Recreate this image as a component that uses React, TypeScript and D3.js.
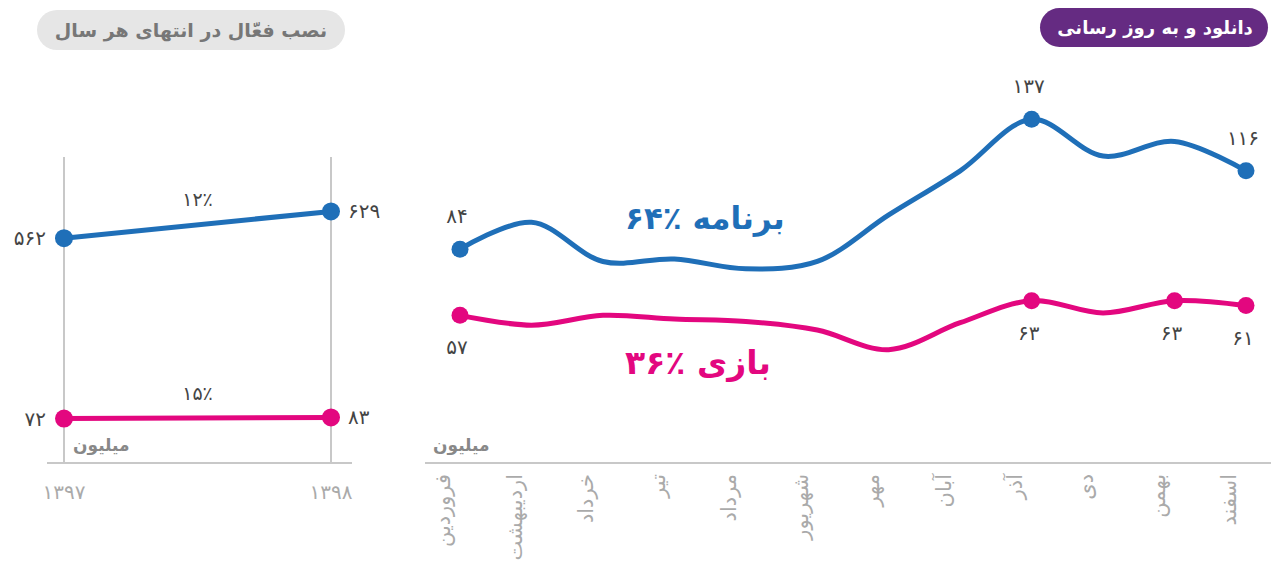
import { useEffect, useRef } from "react"
import * as d3 from "d3"

// monthly downloads & updates (million)
const months = ["فروردین", "اردیبهشت", "خرداد", "تیر", "مرداد", "شهریور", "مهر", "آبان", "آذر", "دی", "بهمن", "اسفند"]
const appValues = [84, 95, 79, 80, 76, 79, 98, 116, 137, 122, 128, 116]
const gameValues = [57, 53, 57, 55.5, 54.5, 51, 43, 54, 63, 58, 63, 61]
const appLabeled = [0, 8, 11]
const gameLabeled = [0, 8, 10, 11]

// active installs at year end (million)
const years = ["۱۳۹۷", "۱۳۹۸"]
const appInstalls = [562, 629]
const gameInstalls = [72, 83]
const appGrowth = "۱۲٪"
const gameGrowth = "۱۵٪"

const BLUE = "#1f6fb8"
const PINK = "#e3077f"
const GRID = "#c8c8c8"
const FONT = "DejaVu Sans, sans-serif"

const fa = (n: number) => d3.format("d")(n).replace(/\d/g, (c) => "۰۱۲۳۴۵۶۷۸۹"[+c])

export default function App() {
  const svgRef = useRef<SVGSVGElement>(null)

  useEffect(() => {
    if (!svgRef.current) return
    const svg = d3.select(svgRef.current)
    svg.selectAll("*").remove()
    svg.style("font-family", FONT)

    // ---------- headers ----------
    svg.append("rect").attr("x", 37).attr("y", 10).attr("width", 308).attr("height", 40).attr("rx", 20).attr("fill", "#e6e6e6")
    svg.append("text").attr("x", 191).attr("y", 30).attr("dy", "0.35em").attr("text-anchor", "middle")
      .attr("fill", "#777").style("font-size", "19px").style("font-weight", "bold").text("نصب فعّال در انتهای هر سال")

    svg.append("rect").attr("x", 1040).attr("y", 8).attr("width", 228).attr("height", 39).attr("rx", 19.5).attr("fill", "#652b82")
    svg.append("text").attr("x", 1155).attr("y", 27.5).attr("dy", "0.35em").attr("text-anchor", "middle")
      .attr("fill", "#fff").style("font-size", "18px").style("font-weight", "bold").text("دانلود و به روز رسانی")

    // ---------- left: yearly installs ----------
    const xl = d3.scalePoint<string>().domain(years).range([64, 331])
    const yApp = d3.scaleLinear().domain([0, 700]).range([463, 183])
    const yGame = d3.scaleLinear().domain([0, 1000]).range([425.75, 325.75])

    const left = svg.append("g")
    years.forEach((yr) => {
      left.append("line").attr("x1", xl(yr)!).attr("x2", xl(yr)!).attr("y1", 157).attr("y2", 463)
        .attr("stroke", GRID).attr("stroke-width", 2)
      left.append("text").attr("x", xl(yr)!).attr("y", 492).attr("dy", "0.35em").attr("text-anchor", "middle")
        .attr("fill", "#aaa").style("font-size", "20px").text(yr)
    })
    left.append("line").attr("x1", 47).attr("x2", 352).attr("y1", 463).attr("y2", 463).attr("stroke", GRID).attr("stroke-width", 2)
    left.append("text").attr("x", 73).attr("y", 445).attr("dy", "0.35em").attr("fill", "#888")
      .style("font-size", "17px").style("font-weight", "bold").text("میلیون")

    const slope = (vals: number[], y: d3.ScaleLinear<number, number>, color: string, growth: string) => {
      const pts = vals.map((v, i) => [xl(years[i])!, y(v)] as [number, number])
      left.append("path").attr("d", d3.line()(pts)).attr("fill", "none").attr("stroke", color).attr("stroke-width", 5)
      pts.forEach(([px, py]) => left.append("circle").attr("cx", px).attr("cy", py).attr("r", 9).attr("fill", color))
      left.append("text").attr("x", pts[0][0] - 18).attr("y", pts[0][1]).attr("dy", "0.35em").attr("text-anchor", "end")
        .attr("fill", "#444").style("font-size", "20px").text(fa(vals[0]))
      left.append("text").attr("x", pts[1][0] + 17).attr("y", pts[1][1]).attr("dy", "0.35em").attr("text-anchor", "start")
        .attr("fill", "#444").style("font-size", "20px").text(fa(vals[1]))
      left.append("text").attr("x", (pts[0][0] + pts[1][0]) / 2).attr("y", (pts[0][1] + pts[1][1]) / 2 - 25).attr("dy", "0.35em")
        .attr("text-anchor", "middle").attr("fill", "#444").style("font-size", "19px").text(growth)
    }
    slope(appInstalls, yApp, BLUE, appGrowth)
    slope(gameInstalls, yGame, PINK, gameGrowth)

    // ---------- right: monthly ----------
    const x = d3.scalePoint<string>().domain(months).range([460, 1246])
    const y = d3.scaleLinear().domain([0, 150]).range([455, 87.5])
    const right = svg.append("g")

    right.append("line").attr("x1", 425).attr("x2", 1271).attr("y1", 463).attr("y2", 463).attr("stroke", GRID).attr("stroke-width", 2)
    right.append("text").attr("x", 433).attr("y", 445).attr("dy", "0.35em").attr("fill", "#888")
      .style("font-size", "17px").style("font-weight", "bold").text("میلیون")

    months.forEach((m) => {
      right.append("text").attr("transform", `translate(${x(m)! - 17},474) rotate(-90)`).attr("dy", "0.35em")
        .attr("text-anchor", "end").attr("fill", "#aaa").style("font-size", "21px").text(m)
    })

    const line = d3.line<number>().x((_, i) => x(months[i])!).y((v) => y(v)).curve(d3.curveCatmullRom)
    const series = (vals: number[], labeled: number[], color: string, off: number) => {
      right.append("path").attr("d", line(vals)).attr("fill", "none").attr("stroke", color).attr("stroke-width", 5)
        .attr("stroke-linecap", "round")
      labeled.forEach((i) => {
        const cx = x(months[i])!, cy = y(vals[i])
        right.append("circle").attr("cx", cx).attr("cy", cy).attr("r", 8.5).attr("fill", color)
        right.append("text").attr("x", cx - 3).attr("y", cy + off).attr("dy", "0.35em").attr("text-anchor", "middle")
          .attr("fill", "#444").style("font-size", "20px").text(fa(vals[i]))
      })
    }
    series(appValues, appLabeled, BLUE, -33)
    series(gameValues, gameLabeled, PINK, 32)

    right.append("text").attr("x", 625).attr("y", 218).attr("dy", "0.35em").attr("fill", BLUE)
      .style("font-size", "31px").style("font-weight", "bold").text("۶۴٪ برنامه")
    right.append("text").attr("x", 625).attr("y", 362).attr("dy", "0.35em").attr("fill", PINK)
      .style("font-size", "33px").style("font-weight", "bold").text("۳۶٪  بازی")
  }, [])

  return <svg ref={svgRef} width={1271} height={567} style={{ position: "absolute", left: 0, top: 0 }}></svg>
}
